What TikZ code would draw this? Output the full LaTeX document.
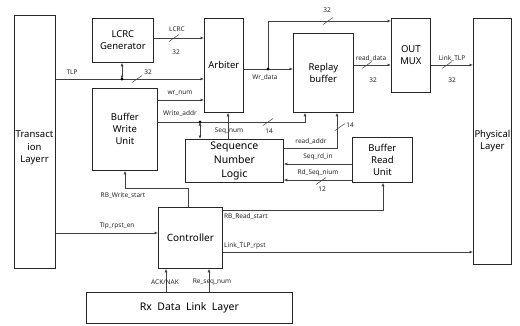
\documentclass[tikz,border=0pt]{standalone}
\usepackage{fontspec}
\setmainfont{Noto Sans}
\usetikzlibrary{arrows.meta}
\begin{document}
\begin{tikzpicture}[x=1pt,y=-1pt,
  box/.style={draw=black!85, line width=0.8pt, fill=white, inner sep=0pt,
    anchor=north west, align=center, font=\fontsize{9.5}{12}\selectfont},
  wire/.style={draw=black!75, line width=0.7pt},
  arr/.style={wire, -{Latex[length=3.5pt,width=3pt]}},
  darr/.style={wire, {Latex[length=3.5pt,width=3pt]}-{Latex[length=3.5pt,width=3pt]}},
  lbl/.style={font=\fontsize{6.5}{8}\selectfont, inner sep=0pt, text=black!85},
  bus/.pic={\draw[black!75, line width=0.5pt] (-5pt,-3.5pt) -- (5pt,3.5pt);}
]
\fill[white] (0,0) rectangle (520,325);
\useasboundingbox (0,0) rectangle (520,325);

% blocks
\node[box, minimum width=41pt,  minimum height=253pt] (trans) at (14,15) {};
\node[align=center, inner sep=0pt, font=\fontsize{9.5}{12.5}\selectfont] (translbl) at (34.5,148) {Transact\\ion\\Layerr};
\node[box, minimum width=61pt,  minimum height=44pt]  (lcrc)  at (92,18)  {LCRC\\Generator};
\node[box, minimum width=39pt,  minimum height=94pt]  (arb)   at (204,18) {Arbiter};
\node[box, minimum width=65pt,  minimum height=82pt]  (bwu)   at (92,88)  {Buffer\\Write\\Unit};
\node[box, minimum width=98pt,  minimum height=43pt,
      font=\fontsize{10.5}{14}\selectfont]            (snl)   at (185,139) {Sequence\\Number\\Logic};
\node[box, minimum width=60pt,  minimum height=79pt]  (rb)    at (293,33) {Replay\\buffer};
\node[box, minimum width=39pt,  minimum height=74pt]  (mux)   at (391,18) {OUT\\MUX};
\node[box, minimum width=38pt,  minimum height=246pt] (phy)   at (473,18) {Physical\\Layer};
\node[box, minimum width=60pt,  minimum height=45pt]  (bru)   at (352,137) {Buffer\\Read\\Unit};
\node[box, minimum width=64pt,  minimum height=61pt,
      font=\fontsize{10}{12}\selectfont]              (ctrl)  at (158,207) {Controller};
\node[box, minimum width=206pt, minimum height=31pt,
      font=\fontsize{10.5}{12}\selectfont]            (rx)    at (86,292) {Rx\ \ Data\ \ Link\ \ Layer};

% TLP input and LCRC tap
\coordinate (tlpj) at (122,79);
\draw[arr] (trans.east |- tlpj) -- (arb.west |- tlpj);
\draw[darr] (tlpj) -- (tlpj |- lcrc.south);
\fill (tlpj) circle (1.6pt);
\node[lbl] at (72,72) {TLP};
\pic at (137,79) {bus};
\node[lbl] at (148,72) {32};

% LCRC
\draw[arr] (lcrc.east |- 0,38) -- (arb.west |- 0,38);
\node[lbl] at (177,29) {LCRC};
\pic at (174,38) {bus};
\node[lbl] at (176,52) {32};

% wr_num
\draw[arr] (bwu.east |- 0,100) -- (arb.west |- 0,100);
\node[lbl] at (180,93) {wr\_num};

% Write_addr
\coordinate (waj) at (200,122);
\coordinate (wabend) at (305,122);
\draw[arr] (bwu.east |- waj) -- (wabend) -- (wabend |- rb.south);
\draw[darr] (waj) -- (waj |- snl.north);
\fill (waj) circle (1.6pt);
\node[lbl] at (180,114) {Write\_addr};
\pic at (268,122) {bus};
\node[lbl] at (269,131) {14};

% Seq_num
\coordinate (sqn) at (228,130);
\draw[arr] (snl.north -| sqn) -- (arb.south -| sqn);
\node[lbl] at (229,131) {Seq\_num};

% Wr_data
\coordinate (wdj) at (268,69);
\coordinate (wdup) at (268,21);
\draw[arr] (arb.east |- wdj) -- (rb.west |- wdj);
\draw[arr] (wdj) -- (wdup) -- (mux.west |- wdup);
\fill (wdj) circle (1.6pt);
\node[lbl] at (265,78) {Wr\_data};
\pic at (328,21) {bus};
\node[lbl] at (327,10) {32};

% read_data
\draw[arr] (rb.east |- 0,65) -- (mux.west |- 0,65);
\node[lbl] at (371,59) {read\_data};
\pic at (367,65) {bus};
\node[lbl] at (373,80) {32};

% Link_TLP
\draw[arr] (mux.east |- 0,65) -- (phy.west |- 0,65);
\node[lbl] at (452,59) {Link\_TLP};
\pic at (447,65) {bus};
\node[lbl] at (452,80) {32};

% read_addr
\coordinate (rabend) at (337,148);
\draw[arr] (snl.east |- rabend) -- (rabend) -- (rabend |- rb.south);
\node[lbl] at (311,142) {read\_addr};
\pic at (340,127) {bus};
\node[lbl] at (350,125) {14};

% Seq_rd_in / Rd_Seq_nium
\draw[arr] (bru.west |- 0,164) -- (snl.east |- 0,164);
\node[lbl] at (318,157) {Seq\_rd\_in};
\draw[arr] (bru.west |- 0,180) -- (snl.east |- 0,180);
\node[lbl] at (318,173) {Rd\_Seq\_nium};
\pic at (321,181) {bus};
\node[lbl] at (322,189) {12};

% RB_Write_start
\coordinate (rbw1) at (188,188);
\coordinate (rbw2) at (125,188);
\draw[arr] (ctrl.north -| rbw1) -- (rbw1) -- (rbw2) -- (rbw2 |- bwu.south);
\node[lbl] at (123,196) {RB\_Write\_start};

% RB_Read_start
\coordinate (rbr) at (383,210);
\draw[arr] (ctrl.east |- rbr) -- (rbr) -- (rbr |- bru.south);
\node[lbl, anchor=west] at (224,217) {RB\_Read\_start};

% Link_TLP_rpst
\draw[arr] (ctrl.east |- 0,252) -- (phy.west |- 0,252);
\node[lbl, anchor=west] at (224,246) {Link\_TLP\_rpst};

% Tlp_rpst_en
\draw[arr] (trans.east |- 0,233) -- (ctrl.west |- 0,233);
\node[lbl] at (117,226) {Tlp\_rpst\_en};

% from Rx Data Link Layer
\coordinate (ackx) at (166,280);
\coordinate (rsqx) at (209,280);
\draw[arr] (rx.north -| ackx) -- (ctrl.south -| ackx);
\draw[arr] (rx.north -| rsqx) -- (ctrl.south -| rsqx);
\node[lbl] at (165,282) {ACK/NAK};
\node[lbl] at (212,282) {Re\_seq\_num};
\end{tikzpicture}
\end{document}
